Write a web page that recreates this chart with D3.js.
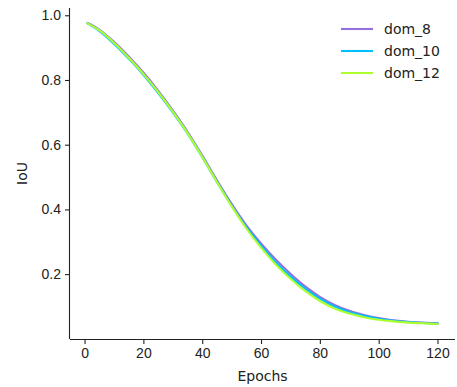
<!DOCTYPE html>
<html>
<head>
<meta charset="utf-8">
<script src="https://cdn.jsdelivr.net/npm/d3@7"></script>
<style>
  body { margin: 0; background: #fff; }
  svg { display: block; font-family: "DejaVu Sans", sans-serif; }
  .axis text { font-size: 14px; fill: #222; }
  .axis path, .axis line { stroke: #222; stroke-width: 1.1; }
</style>
</head>
<body>
<figure id="chart" style="margin:0"></figure>
<script>
// values
const epochs = [1, 5, 10, 15, 20, 25, 30, 35, 40, 45, 50, 55, 60, 65, 70, 75, 80, 85, 90, 95, 100, 105, 110, 115, 120];
const dom8  = [0.976, 0.956, 0.918, 0.873, 0.823, 0.767, 0.706, 0.640, 0.567, 0.490, 0.417, 0.351, 0.295, 0.245, 0.201, 0.162, 0.130, 0.105, 0.087, 0.074, 0.064, 0.057, 0.053, 0.050, 0.048];
const dom10 = [0.975, 0.952, 0.912, 0.866, 0.816, 0.760, 0.700, 0.635, 0.562, 0.485, 0.412, 0.345, 0.288, 0.237, 0.193, 0.155, 0.124, 0.100, 0.083, 0.071, 0.062, 0.056, 0.052, 0.049, 0.047];
const dom12 = [0.975, 0.954, 0.915, 0.869, 0.819, 0.763, 0.702, 0.636, 0.563, 0.485, 0.410, 0.341, 0.282, 0.230, 0.186, 0.148, 0.117, 0.094, 0.078, 0.067, 0.059, 0.054, 0.050, 0.048, 0.046];
const seriesNames = ["dom_8", "dom_10", "dom_12"];
const seriesValues = [dom8, dom10, dom12];
const seriesColors = ["#9370DB", "#00BFFF", "#ADFF2F"];
const xTicks = [0, 20, 40, 60, 80, 100, 120];
const yTicks = [0.2, 0.4, 0.6, 0.8, 1.0];

const width = 457, height = 387;
const margin = {top: 8, right: 2, bottom: 48, left: 70};

const svg = d3.select("figure#chart")
  .append("svg")
  .attr("width", width)
  .attr("height", height);

// matplotlib-like 5% padding around data extent
const xExt = d3.extent(epochs);
const xPad = (xExt[1] - xExt[0]) * 0.05;
const allY = seriesValues.flat();
const yExt = d3.extent(allY);
const yPad = (yExt[1] - yExt[0]) * 0.05;

const xScale = d3.scaleLinear()
  .domain([xExt[0] - xPad, xExt[1] + xPad])
  .range([margin.left, width - margin.right]);
const yScale = d3.scaleLinear()
  .domain([yExt[0] - yPad, yExt[1] + yPad])
  .range([height - margin.bottom, margin.top]);

// axes (left + bottom spines only)
svg.append("g")
  .attr("class", "axis")
  .attr("transform", `translate(0,${height - margin.bottom})`)
  .call(d3.axisBottom(xScale).tickValues(xTicks).tickFormat(d3.format("d")).tickSize(5).tickPadding(4))
  .call(g => g.select(".domain").attr("d", `M${margin.left},0.5H${width - margin.right}`));

svg.append("g")
  .attr("class", "axis")
  .attr("transform", `translate(${margin.left},0)`)
  .call(d3.axisLeft(yScale).tickValues(yTicks).tickFormat(d3.format(".1f")).tickSize(5).tickPadding(4))
  .call(g => g.select(".domain").attr("d", `M-0.5,${margin.top}V${height - margin.bottom}`));

// lines
const line = d3.line()
  .x((d, i) => xScale(epochs[i]))
  .y(d => yScale(d))
  .curve(d3.curveMonotoneX);

seriesValues.forEach((vals, k) => {
  svg.append("path")
    .datum(vals)
    .attr("fill", "none")
    .attr("stroke", seriesColors[k])
    .attr("stroke-width", 2.1)
    .attr("stroke-linecap", "square")
    .attr("d", line);
});

// axis labels
svg.append("text")
  .attr("x", (margin.left + width - margin.right) / 2)
  .attr("y", 381)
  .attr("text-anchor", "middle")
  .style("font-size", "14px")
  .attr("fill", "#222")
  .text("Epochs");

svg.append("text")
  .attr("transform", `translate(27,${(margin.top + height - margin.bottom) / 2}) rotate(-90)`)
  .attr("text-anchor", "middle")
  .style("font-size", "14px")
  .attr("fill", "#222")
  .text("IoU");

// legend
const legend = svg.append("g").attr("transform", "translate(341,29)");
seriesNames.forEach((name, k) => {
  const row = legend.append("g").attr("transform", `translate(0,${k * 22})`);
  row.append("line")
    .attr("x1", 0).attr("x2", 32)
    .attr("stroke", seriesColors[k])
    .attr("stroke-width", 2.1);
  row.append("text")
    .attr("x", 43)
    .attr("y", 5)
    .style("font-size", "14px")
    .attr("fill", "#222")
    .text(name);
});
</script>
</body>
</html>
